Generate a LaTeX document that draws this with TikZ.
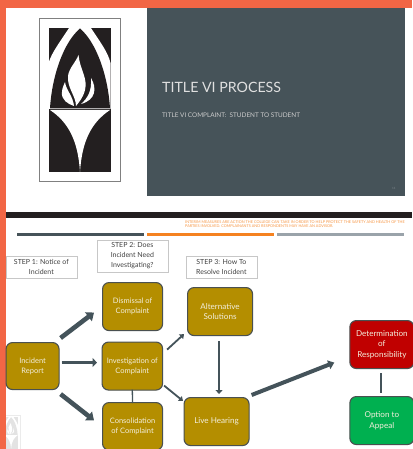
\documentclass[tikz,border=0pt]{standalone}
\usepackage{fontspec}
\setmainfont{Lato}
\usetikzlibrary{arrows.meta,shadows}
\definecolor{orangeedge}{HTML}{F26645}
\definecolor{slatepanel}{HTML}{465359}
\definecolor{gold}{HTML}{B48E00}
\definecolor{boxedge}{HTML}{4A5050}
\definecolor{redbox}{HTML}{C00000}
\definecolor{greenbox}{HTML}{00B050}
\definecolor{barorange}{HTML}{F58220}
\definecolor{bargrey}{HTML}{9AA3AA}
\definecolor{logoblack}{HTML}{231F20}
\definecolor{arrowslate}{HTML}{44535A}
\definecolor{boxtext}{HTML}{F3EEDC}
\tikzset{
  x=1pt,y=-1pt,
  flowbox/.style={draw=boxedge,line width=1.1pt,rounded corners=6.5pt,fill=gold,text=boxtext,
    align=center,inner sep=0pt,font=\fontsize{7.5}{10}\selectfont,anchor=north west},
  bigbox/.style={flowbox,font=\fontsize{8.1}{10.6}\selectfont},
  stepbox/.style={draw=black!22,line width=0.7pt,fill=white,text=black!75,align=center,inner sep=0pt,
    font=\fontsize{7}{10}\selectfont,anchor=north west},
  flowarrow/.style={draw=arrowslate,fill=arrowslate},
  flowline/.style={draw=arrowslate,line width=1.3pt},
  lines/.style={inner sep=0pt,anchor=west}
}
\newcommand{\logoshapes}[2]{%
  \fill[#1] (48.5,28) rectangle (110.5,172);
  \fill[#2] (69,28) -- (91,28) .. controls (100,42) and (108,52) .. (110.5,63)
     -- (110.5,109) -- (49,109) -- (48.5,63) .. controls (52,52) and (60,42) .. (69,28) -- cycle;
  \fill[#1] (80,28.5) .. controls (96,42) and (108,75) .. (110,108.5) -- (50,108.5)
     .. controls (52,75) and (64,42) .. (80,28.5) -- cycle;
  \fill[#2] (50,110) -- (110,110) .. controls (92,122) and (82,140) .. (80,172) 
     .. controls (78,140) and (68,122) .. (50,110) -- cycle;
  \fill[#2] (78.5,55) .. controls (80,70) and (88,78) .. (85,90) .. controls (83,98) and (79,102) .. (76,106)
     .. controls (76,96) and (67,88) .. (68,76) .. controls (69,68) and (76,62) .. (78.5,55) -- cycle;
  \fill[#2] (65,82) .. controls (66,90) and (73,96) .. (74,106) .. controls (68,104) and (61,100) .. (62,92)
     .. controls (62,88) and (64,85) .. (65,82) -- cycle;
  \fill[#2] (91,78) .. controls (97,88) and (96,100) .. (81,104) .. controls (88,98) and (92,90) .. (91,78) -- cycle;
}
\begin{document}
\begin{tikzpicture}
\useasboundingbox (0,0) rectangle (412,449);
\fill[white] (0,0) rectangle (412,449);
% ghost logo
\begin{scope}[shift={(11,415)},xscale=0.22,yscale=0.22,shift={(-79.5,-18.3)}]
  \draw[black!8,line width=0.5pt] (39.3,18.3) rectangle (120,181);
  \logoshapes{black!11}{white}
\end{scope}
% orange edge
\fill[orangeedge] (0,0) rectangle (412,8);
\fill[orangeedge] (0,0) rectangle (6,449);
% logo
\draw[black!50,line width=0.7pt,fill=white] (39.3,18.3) rectangle (120,181);
\logoshapes{logoblack}{white}
% panel
\fill[slatepanel] (147,8) rectangle (405,196);
\node[lines,text=white!88!black,font=\fontsize{14.2}{18}\selectfont] (title) at (162,87) {TITLE VI PROCESS};
\node[lines,text=white!80!black,font=\fontsize{6.4}{8}\selectfont] (subtitle) at (162,115.5) {TITLE VI COMPLAINT:\ \ STUDENT TO STUDENT};
\node[lines,text=white!30!slatepanel,font=\fontsize{3}{4}\selectfont] (pagenum) at (392,188) {11};
% rules
\fill[logoblack] (6,212) rectangle (412,217.5);
\fill[slatepanel] (16.5,233.3) rectangle (144,236.3);
\fill[barorange] (147,233.3) rectangle (274,236.3);
\fill[bargrey] (277,233.3) rectangle (404,236.3);
\node[anchor=north west,inner sep=0pt,align=left,text=barorange!85!white,font=\fontsize{3.8}{4.1}\selectfont] (interim) at (185,220.5)
  {INTERIM MEASURES ARE ACTION THE COLLEGE CAN TAKE IN ORDER TO HELP PROTECT THE SAFETY AND HEALTH OF THE\\PARTIES INVOLVED. COMPLAINANTS AND RESPONDENTS MAY HAVE AN ADVISOR.};
% steps
\node[stepbox,minimum width=71pt,minimum height=22.5pt] (s1) at (5.5,255.5) {STEP 1: Notice of\\Incident};
\node[stepbox,minimum width=71pt,minimum height=32pt] (s2) at (96.5,239.5) {STEP 2: Does\\Incident Need\\Investigating?};
\node[stepbox,minimum width=71pt,minimum height=22.5pt] (s3) at (185.5,255.5) {STEP 3: How To\\Resolve Incident};
% boxes
\node[flowbox,minimum width=53pt,minimum height=47pt] (inc) at (5.5,342) {Incident\\Report};
\node[flowbox,minimum width=60pt,minimum height=48pt] (dis) at (102,282) {Dismissal of\\Complaint};
\node[flowbox,minimum width=60.5pt,minimum height=48pt] (inv) at (101.5,341.5) {Investigation of\\Complaint};
\node[flowbox,minimum width=60pt,minimum height=47.5pt] (con) at (102,402) {Consolidation\\of Complaint};
\node[bigbox,minimum width=65pt,minimum height=48pt] (alt) at (187,287) {Alternative\\Solutions};
\node[bigbox,minimum width=65pt,minimum height=48pt] (live) at (183.5,397) {Live Hearing};
\node[bigbox,fill=redbox,minimum width=64pt,minimum height=48pt] (det) at (349.3,320) {Determination\\of\\Responsibility};
\node[bigbox,fill=greenbox,minimum width=64pt,minimum height=48pt] (opt) at (349.3,396) {Option to\\Appeal};
% connectors
\draw[flowarrow,line width=4.6pt,-{Triangle[length=7pt,width=11pt]}] ([shift={(1,-4)}]inc.north east) -- ([shift={(-8,6)}]dis.west);
\draw[flowarrow,line width=3.6pt,-{Triangle[length=4.5pt,width=9pt]}] ([shift={(2,-3.5)}]inc.east) -- ([shift={(-4.5,-3.5)}]inv.west);
\draw[flowarrow,line width=4.6pt,-{Triangle[length=7pt,width=11pt]}] ([shift={(1,4)}]inc.south east) -- ([shift={(-8,-6)}]con.west);
\draw[flowarrow,line width=1.8pt,-{Triangle[length=4pt,width=6pt]}] ([shift={(4,-41)}]inv.south east) -- ([shift={(-3,-2)}]alt.south west);
\draw[flowarrow,line width=1.8pt,-{Triangle[length=4pt,width=6pt]}] ([shift={(1,-5)}]inv.south east) -- ([shift={(-0.5,4)}]live.north west);
\draw[flowline] ([yshift=-1pt]con.north) -- ([yshift=1pt]inv.south);
\draw[flowarrow,line width=2.6pt,-{Triangle[length=4pt,width=7pt]}] ([shift={(-1,5)}]alt.south) -- ([shift={(2.5,-3)}]live.north);
\draw[flowarrow,line width=4pt,-{Triangle[length=6pt,width=9pt]}] ([shift={(2,-2)}]live.north east) -- ([shift={(-15,18)}]det.west);
\draw[flowline] ([shift={(-1,4)}]det.south) -- ([shift={(-1,-3)}]opt.north);
\end{tikzpicture}
\end{document}
